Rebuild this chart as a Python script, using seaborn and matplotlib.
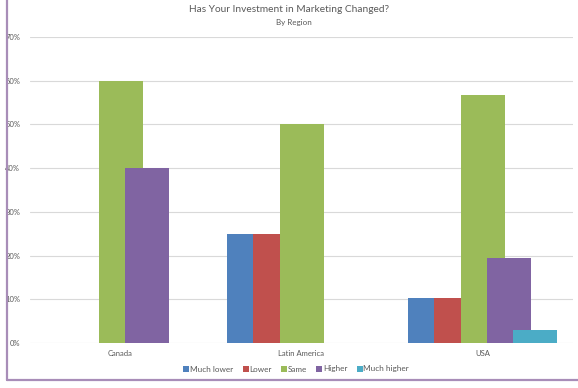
import matplotlib
matplotlib.use("Agg")
import matplotlib.pyplot as plt
import seaborn as sns
import pandas as pd
from matplotlib.lines import Line2D
from matplotlib.ticker import PercentFormatter

regions = ["Canada", "Latin America", "USA"]
responses = ["Much lower", "Lower", "Same", "Higher", "Much higher"]
canada = [0.0, 0.0, 0.60, 0.40, 0.0]
latin_america = [0.25, 0.25, 0.50, 0.0, 0.0]
usa = [0.104, 0.104, 0.567, 0.194, 0.030]
colors = ["#4F81BD", "#C0504D", "#9BBB59", "#8064A2", "#4BACC6"]

rows = []
for reg, vals in zip(regions, [canada, latin_america, usa]):
    for resp, v in zip(responses, vals):
        rows.append({"Region": reg, "Response": resp, "Share": v})
df = pd.DataFrame(rows)

sns.set_theme(style="white")
plt.rcParams['font.family'] = ['Lato', 'DejaVu Sans']

fig = plt.figure(figsize=(5.78, 3.88), dpi=100)
ax_left, ax_right = 30, 573
ax = fig.add_axes([ax_left/578, 1-343/388, (ax_right-ax_left)/578, (343-37)/388])

sns.barplot(data=df, x="Region", y="Share", hue="Response", order=regions,
            hue_order=responses, palette=colors, width=0.72, dodge=True,
            saturation=1, errorbar=None, ax=ax, legend=False, linewidth=0)

# widen bars so neighbouring bars overlap (Excel-style overlap)
unit_px = (ax_right-ax_left)/3.0
new_w = 44/unit_px
for p in ax.patches:
    c = p.get_x() + p.get_width()/2
    p.set_width(new_w)
    p.set_x(c - new_w/2)

ax.set_xlim(-0.5, 2.5)
ax.set_ylim(0, 0.7)
ax.set_yticks([i/10 for i in range(8)])
ax.yaxis.set_major_formatter(PercentFormatter(1.0, decimals=0))
ax.grid(axis="y", color="#D9D9D9", linewidth=0.8)
ax.set_axisbelow(True)
for s in ax.spines.values():
    s.set_visible(False)
ax.tick_params(axis="both", length=0, labelsize=5.5, colors="#595959")
ax.tick_params(axis="y", pad=7)
ax.tick_params(axis="x", pad=5)
ax.set_xlabel("")
ax.set_ylabel("")

fig.text(289/578, 1-10/388, "Has Your Investment in Marketing Changed?", ha="center",
         va="center", fontsize=7.3, color="#595959")
fig.text(294/578, 1-22/388, "By Region", ha="center", va="center", fontsize=5.8,
         color="#595959")

handles = [Line2D([0], [0], marker="s", linestyle="", markersize=4.5,
                  markerfacecolor=c, markeredgewidth=0) for c in colors]
fig.legend(handles, responses, loc="center", bbox_to_anchor=(296/578, 1-369/388),
           ncol=5, frameon=False, fontsize=5.9, handletextpad=0.05,
           columnspacing=1.1, labelcolor="#595959", handlelength=0.8)

bc = "#A88DB8"
fig.add_artist(Line2D([6.5/578, 6.5/578], [1-379.5/388, 1.0], transform=fig.transFigure,
                      color=bc, linewidth=1.6))
fig.add_artist(Line2D([6.5/578, 1.0], [1-379.5/388, 1-379.5/388], transform=fig.transFigure,
                      color=bc, linewidth=1.6))

fig.savefig("out.png", dpi=100, facecolor="white")
